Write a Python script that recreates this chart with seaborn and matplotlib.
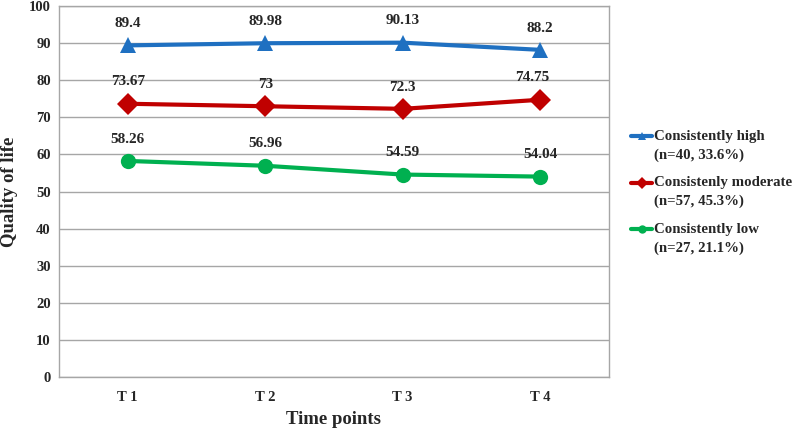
import matplotlib
matplotlib.use("Agg")
import matplotlib.pyplot as plt
from matplotlib.legend_handler import HandlerLine2D
import seaborn as sns
import pandas as pd

# data
time_points = ["T 1", "T 2", "T 3", "T 4"]
high = [89.4, 89.98, 90.13, 88.2]
moderate = [73.67, 73, 72.3, 74.75]
low = [58.26, 56.96, 54.59, 54.04]
high_label = ["89.4", "89.98", "90.13", "88.2"]
moderate_label = ["73.67", "73", "72.3", "74.75"]
low_label = ["58.26", "56.96", "54.59", "54.04"]
groups = ["Consistently high\n(n=40, 33.6%)",
          "Consistenly moderate\n(n=57, 45.3%)",
          "Consistently low\n(n=27, 21.1%)"]

sns.set_style("white")
plt.rcParams['font.family'] = ['Liberation Serif', 'DejaVu Serif']
plt.rcParams['font.weight'] = 'bold'

rows = []
for g, vals in zip(groups, [high, moderate, low]):
    for t, v in zip(time_points, vals):
        rows.append({"time": t, "qol": v, "group": g})
df = pd.DataFrame(rows)

palette = {groups[0]: "#1F70C1", groups[1]: "#C00000", groups[2]: "#00B050"}
markers = {groups[0]: "^", groups[1]: "D", groups[2]: "o"}


class TopLineHandler(HandlerLine2D):
    # put the legend key level with the first text line
    def create_artists(self, legend, orig_handle, xdescent, ydescent,
                       width, height, fontsize, trans):
        return super().create_artists(legend, orig_handle, xdescent,
                                      ydescent - 2 * 6.8, width, height,
                                      fontsize, trans)


fig, ax = plt.subplots(figsize=(7.97, 4.32), dpi=100)
fig.subplots_adjust(left=0.074, right=0.764, top=0.986, bottom=0.127)

sns.lineplot(data=df, x="time", y="qol", hue="group", style="group",
             palette=palette, markers=markers, dashes=False, linewidth=3,
             markersize=11, markeredgewidth=0, ax=ax, sort=False)

# data labels
offsets = {0: [(0, 11)] * 4, 1: [(0, 11), (0, 11), (0, 11), (-6, 11)], 2: [(0, 11)] * 4}
for i, (vals, labs) in enumerate([(high, high_label), (moderate, moderate_label), (low, low_label)]):
    for j, (v, lab) in enumerate(zip(vals, labs)):
        ax.annotate(lab, (j, v), xytext=offsets[i][j], textcoords="offset points",
                    ha="center", va="bottom", fontsize=11, fontweight="bold")

ax.set_xlim(-0.5, 3.5)
ax.set_ylim(0, 100)
ax.set_yticks(range(0, 101, 10))
ax.yaxis.grid(True, color="#A6A6A6", linewidth=1)
ax.set_axisbelow(True)
for s in ax.spines.values():
    s.set_color("#A6A6A6")
    s.set_linewidth(1)
ax.tick_params(axis="both", length=0, labelsize=10.5, pad=6)
for lab in ax.get_xticklabels() + ax.get_yticklabels():
    lab.set_fontweight("bold")
ax.tick_params(axis="x", pad=10)

ax.set_xlabel("Time points", fontsize=13.5, fontweight="bold", labelpad=5)
ax.set_ylabel("Quality of life", fontsize=13.5, fontweight="bold", labelpad=8)

handles, labels = ax.get_legend_handles_labels()
leg = ax.legend(handles, labels, loc="center left", bbox_to_anchor=(0.792, 0.555),
                bbox_transform=fig.transFigure, frameon=False,
                handlelength=1.4, handletextpad=0.1, labelspacing=1.0,
                borderpad=0, borderaxespad=0,
                handler_map={h: TopLineHandler() for h in handles},
                prop={"size": 10.7, "weight": "bold"}, title=None)
for t in leg.get_texts():
    t.set_linespacing(1.5)
for h in leg.legend_handles:
    h.set_markersize(6)
    h.set_linewidth(3)

fig.savefig("out.png", dpi=100)
